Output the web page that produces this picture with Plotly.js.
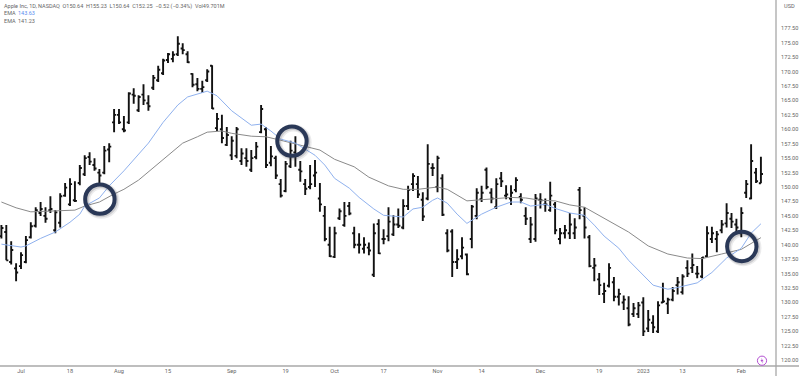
<!DOCTYPE html>
<html><head><meta charset="utf-8">
<script src="https://cdn.plot.ly/plotly-3.0.1.min.js"></script>
<style>html,body{margin:0;padding:0;background:#fff}#c{width:799px;height:376px}</style></head>
<body><div id="c"></div>
<script>
const firstSession = -4;
const opens = [141.5,142.2,137.0,135.9,136.3,137.0,141.3,143.3,145.5,145.0,146.0,142.5,143.8,148.5,147.0,147.7,150.7,152.2,155.2,153.8,152.5,152.5,156.5,
161.2,162.5,160.0,161.2,166,163.3,166,164.5,167.2,168.5,169.7,172,172.2,173,174,173,169.6,167.8,167,168.5,171,160.2,160,157.3,155.5,155.4,154.5,155,153,155.2,159.5,
160,154.2,155,150.5,149.3,153.6,156,153,150.5,150,152,148,145,140,137.9,144.6,143.4,146.7,142,140,139.3,139.5,134.8,143.6,141,141.5,141.8,143.5,143,146.7,150.5,150.5,147.8,148,153.3,150,151.5,
142,142.3,137,138,138.3,141,145,147.9,153,149,146.5,151.5,148.5,148,149.5,148.3,145,141,141,147.8,147,146,147,141,142,142,142,149.5,145,141.3,136,134,131.5,132.9,133.5,131,130,129,128,128,130,125.5,126.5,125,130,129.8,130.5,133,131.8,136,136,135,134.5,138,141,141,142.5,143.7,144.5,143.5,142,149,148,152.5,150.64];
const highs = [143.4,143.4,140.6,136.8,138.7,141.5,143.9,146.5,147.4,146.5,148.4,146.0,148.9,150.7,151.5,151.0,153.8,155.5,156.0,155.0,153.1,157.1,157.6,
163.5,163.5,162.3,166.4,167.1,165.9,167.8,165.9,169.4,171,172.2,173.2,173.5,176.1,174.9,173.5,169.7,168.9,168.4,170.4,171.1,162.8,162.5,160.4,158.8,160.4,156.7,156.7,156.4,157.8,164.2,
160.4,157.1,155.4,151.4,154.5,158,158.8,154.5,151.4,153.8,154.7,150.7,146.7,143.1,143.1,146.3,147.4,147.4,143.1,142,141.3,140.4,143.7,144.4,142.7,146.5,145.1,146.3,147.9,150.2,152.4,151.9,149.1,157.4,154.1,155.4,152.2,
142.7,142.7,139.2,141.3,138.5,146.9,149.8,150.2,153.4,149.8,151.5,152.6,150.3,150.3,151.7,148.9,146.5,144.8,148.8,148.9,148,150.9,147.4,142.9,143.4,145.5,144.6,150,146.5,141.7,137.7,135.1,133.4,136.8,134.4,132.4,131.2,131.1,129.9,130.1,130.9,128.7,127.8,130.2,133.4,130.8,132.7,134.4,134.9,137.3,138.5,136.3,137.9,143.2,143.1,142.4,144.3,147.2,145.5,144.5,146.5,151.2,157.4,153.3,155.23];
const lows = [141.1,137.3,136.6,133.7,135.8,136.8,141.1,143.0,145.0,143.8,145.5,142.0,143.0,148.3,146.7,147.4,150.3,151.9,153.8,152.8,150.7,152.2,154.3,
159.5,160.9,159.5,160.9,164.4,163.0,164.2,163.2,166.8,168.2,169.4,171.5,171.6,172.7,173,171.5,167.3,166.6,166.3,168.2,163.5,159.7,157.6,157.1,154.7,155,153.8,153.5,152.6,154.8,159.3,
153.3,153.6,151.4,148.2,149.1,153.3,153.5,150.9,148.6,149.6,150,145.7,140.6,137.9,137.7,144.3,143.1,145.1,139.4,138.5,138.5,138.2,134.4,138.4,140.1,140.6,141.5,142.9,142.7,146,149.3,148.1,144.1,147.7,151.9,149.1,145,
138.7,134.4,135.8,137.5,134.7,139.4,144.4,147.4,149.6,147.2,146.2,150,147.9,146.9,149.1,147.2,143.4,140.3,140.5,146.3,145.7,145.7,141.8,140.1,141.1,141,141,144.4,141.1,136.1,133.7,131.3,129.9,132.6,130.2,129.5,128.7,125.9,127.5,127.3,124.2,124.9,124.7,124.7,129.9,128,130.2,131.4,131.4,134.4,135.1,134.2,134.2,137.9,140.3,138.7,142,143,142.9,142.2,141.3,148.1,147.9,150.7,150.64];
const closes = [142.9,137.3,139.1,135.2,138.2,140.8,143.2,146.0,146.2,144.5,146.2,145.6,148.4,149.9,150.5,147.6,153.3,155.0,154.4,153.2,152.0,156.3,157.0,
162.5,161.2,159.8,166.2,165.8,165.6,165,164,168.9,170.3,171.9,173,172.9,174.8,173.7,171.6,167.7,167,167.3,170,163.6,161.8,158.5,159,158,160,155.8,154.5,155,157,163.5,
153.8,155.3,152,148.5,154,156.3,155.5,152.7,149.7,150.5,152.5,147,141,138,142,145.8,145,145.4,140,140,140,139,142,138.5,141,144,143.5,143.3,146.7,149.5,151.9,148.7,144.9,154,153.3,155,145.2,
139,137,137.5,139.5,134.9,146.6,149,149,150,148,150.5,151,148.7,149,151.2,147.8,144.5,143.5,148,147.7,147,148.5,142.5,142,142.5,143.5,143,146,143,136.3,136.4,133,132,136,131,131.5,130.5,126.2,129,129.5,125,127,125.7,129.5,130.2,130.5,132,133.5,134.5,135,136.5,135,137.8,142,142,141.8,143.5,145.5,144,143,145.5,150.5,154.5,151,152.25];

const fastEmaAt = [-4,0,1,4,7,10,12,13,16,18,21,23,26,29,32,34,36,38,40,43,47,49,51,53,56,60,62,64,67,69,72,74,78,80,82,84,85,87,89,91,94,97,100,102,104,107,109,112,115,117,119,122,124,126,129,132,134,138,141,144,147,149,151];
const fastEma = [140.1,139.6,139.8,141.1,142.2,143.9,145.3,146.7,148.1,150.2,152.8,154.7,157.6,161.2,164.2,165.6,166.1,166.6,165.8,163.2,160.7,160.9,159.7,158.3,157.6,155.5,153.8,151.5,149.8,148.2,146.2,145.1,144.8,146.2,146.5,147.7,148.1,147.2,145.3,143.7,145.3,146.5,147.4,147.4,146.7,147.0,146.3,145.5,145.1,143.4,141.5,139.4,137.3,135.6,133,132.3,132.6,133.4,135.2,137.7,139.4,142,143.63];
const slowEmaAt = [-4,-1,2,7,11,13,16,19,21,24,29,33,36,38,41,43,47,50,53,58,61,64,68,71,75,78,81,85,87,91,96,100,103,106,109,112,115,119,124,128,132,136,139,143,147,151];
const slowEma = [147.4,146.4,145.7,145.8,146,146.7,147.4,148.8,149.6,151.2,154.7,157.6,158.7,159.5,159.7,159.3,158.8,158.7,158.1,157.1,156.4,154.8,153.5,151.7,150.2,149.6,149.6,150,149.6,147.6,147.9,148.2,148.1,147.7,147.6,146.9,146.5,144.6,142.2,139.8,138.4,137.7,137.6,138.4,139.2,141.23];

const monthTickAt = [0,10,20,30,43,54,64,74,85,94,106,118,127,135,147];
const monthTickText = ['Jul','18','Aug','15','Sep','19','Oct','17','Nov','14','Dec','19','2023','13','Feb'];
const priceTicks = [120,122.5,125,127.5,130,132.5,135,137.5,140,142.5,145,147.5,150,152.5,155,157.5,160,162.5,165,167.5,170,172.5,175,177.5];
const circleAt = [16.1,55.3,147.1];
const circlePrice = [147.9,157.95,139.7];

const sessions = opens.map((_, k) => firstSession + k);
const ringColor = '#2a3857';
const ringShapes = [];
circleAt.forEach((cx, k) => {
  const cy = circlePrice[k];
  const ring = (off, r, col, w) => ({type:'circle', xref:'x', yref:'y', layer:'above',
    xsizemode:'pixel', ysizemode:'pixel', xanchor:cx, yanchor:cy,
    x0:-r+off, x1:r+off, y0:-r-off, y1:r-off, line:{color:col, width:w}, fillcolor:'rgba(0,0,0,0)'});
  ringShapes.push(ring(1.5, 14.7, 'rgba(60,60,70,0.10)', 7));
  ringShapes.push(ring(1, 14.7, 'rgba(60,60,70,0.18)', 5));
  ringShapes.push(ring(0, 14.7, ringColor, 4));
});
const fontFamily = 'Roboto, Arial, sans-serif';
const txt = (x, y, text, color) => ({xref:'paper', yref:'paper', x, y, xanchor:'left', yanchor:'middle',
  text, showarrow:false, align:'left', font:{family:fontFamily, size:5.5, color}});
const plotH = 366;
const fromTop = px => 1 - px / plotH;
Plotly.newPlot('c', [
  {type:'scatter', mode:'lines', x:slowEmaAt, y:slowEma, line:{color:'#8a8a8a', width:1}, hoverinfo:'skip'},
  {type:'scatter', mode:'lines', x:fastEmaAt, y:fastEma, line:{color:'#8fb1ee', width:1}, hoverinfo:'skip'},
  {type:'ohlc', x:sessions, open:opens, high:highs, low:lows, close:closes, tickwidth:0.42,
   increasing:{line:{color:'#111', width:1.9}}, decreasing:{line:{color:'#111', width:1.9}}}
], {
  width:799, height:376, margin:{l:0, r:23, t:0, b:10}, showlegend:false,
  paper_bgcolor:'#fff', plot_bgcolor:'#fff',
  xaxis:{type:'linear', range:[-4.286,154.08], showgrid:false, zeroline:false, rangeslider:{visible:false},
    tickmode:'array', tickvals:monthTickAt, ticktext:monthTickText, ticks:'', showline:false,
    tickfont:{family:fontFamily, size:5.6, color:'#666'}, automargin:false},
  yaxis:{side:'right', range:[119.0,182.39], showgrid:false, zeroline:false, tickmode:'array', tickvals:priceTicks,
    tickformat:'.2f', ticks:'outside', ticklen:3, tickcolor:'rgba(0,0,0,0)', showline:false,
    tickfont:{family:fontFamily, size:5.6, color:'#666'}, automargin:false},
  shapes:[
    {type:'line', xref:'paper', yref:'paper', x0:0, x1:1.03, y0:0, y1:0, line:{color:'#a8a8a8', width:1.3}},
    {type:'line', xref:'paper', yref:'paper', x0:1, x1:1, y0:-0.03, y1:1, line:{color:'#a8a8a8', width:1.3}},
    {type:'circle', xref:'paper', yref:'paper', xsizemode:'pixel', ysizemode:'pixel', xanchor:762/776, yanchor:fromTop(360.7),
      x0:-4.6, x1:4.6, y0:-4.6, y1:4.6, line:{color:'#b34fd1', width:1}, fillcolor:'#fff'},
    {type:'path', xref:'paper', yref:'paper', xsizemode:'pixel', ysizemode:'pixel', xanchor:762/776, yanchor:fromTop(360.7),
      path:'M 1,-3 L -1.6,0.6 L -0.2,0.6 L -1,3 L 1.6,-0.6 L 0.2,-0.6 Z', fillcolor:'#b34fd1', line:{width:0}},
    ...ringShapes
  ],
  annotations:[
    txt(0.002, fromTop(6), 'Apple Inc, 1D, NASDAQ  O150.64  H155.23  L150.64  C152.25  −0.52 (−0.34%)  Vol49.701M', '#666'),
    txt(0.002, fromTop(13.5), 'EMA', '#666'),
    txt(0.0205, fromTop(13.5), '143.63', '#5b8def'),
    txt(0.002, fromTop(21), 'EMA', '#666'),
    txt(0.0205, fromTop(21), '141.23', '#666'),
    {xref:'paper', yref:'paper', x:1.0, y:fromTop(6), xanchor:'left', yanchor:'middle', xshift:6, text:'USD', showarrow:false,
     font:{family:fontFamily, size:5.6, color:'#666'}}
  ]
}, {displayModeBar:false, staticPlot:true});
</script></body></html>
